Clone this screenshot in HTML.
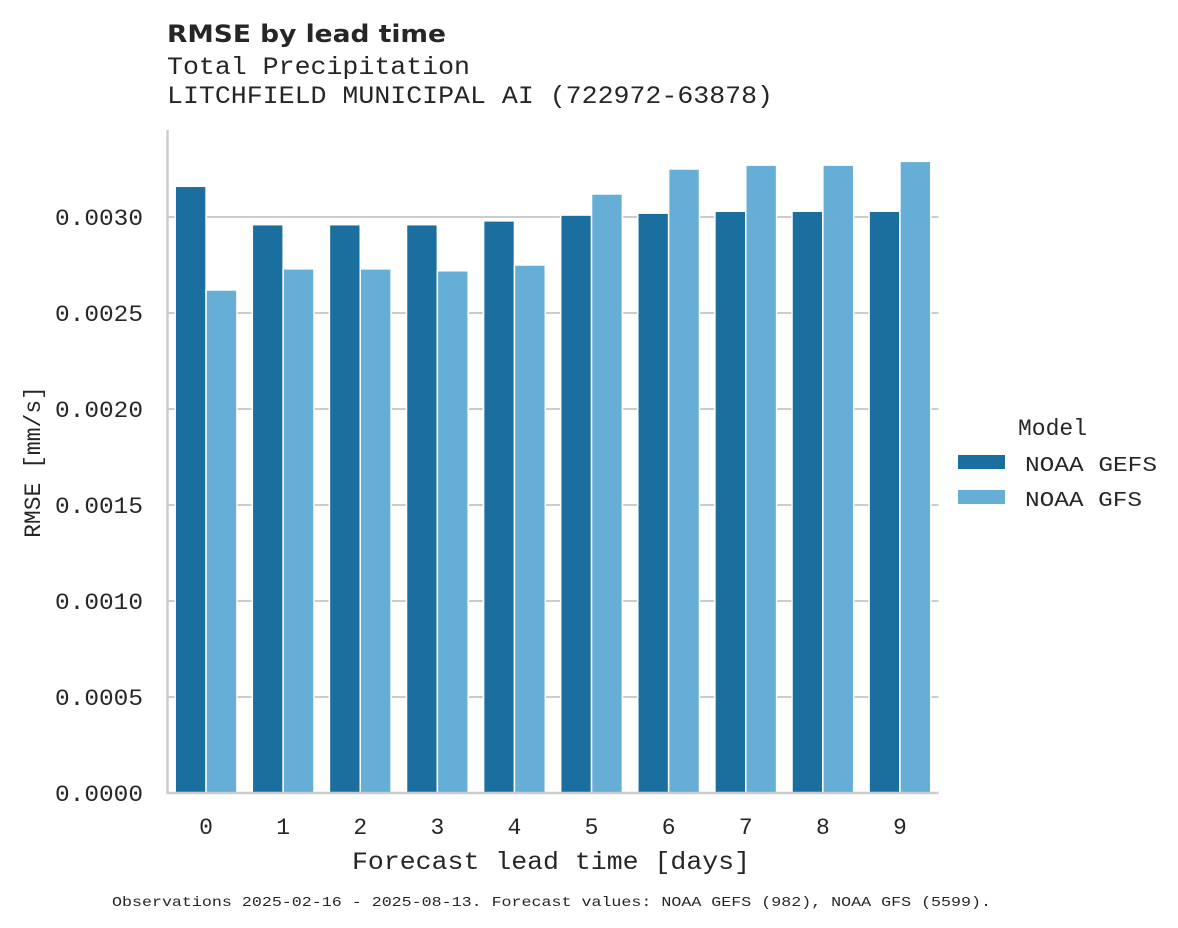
<!DOCTYPE html>
<html><head><meta charset="utf-8"><style>
html,body{margin:0;padding:0;background:#fff;}
svg{display:block;}
text{fill:#262626;font-family:"Liberation Mono",monospace;}
</style></head><body>
<svg id="chart" width="1178" height="928" viewBox="0 0 1178 928" xmlns="http://www.w3.org/2000/svg">
<text x="167" y="42" font-family="DejaVu Sans, Liberation Sans, sans-serif" style="font-family:'DejaVu Sans','Liberation Sans',sans-serif" font-weight="bold" font-size="24" textLength="279" lengthAdjust="spacingAndGlyphs">RMSE by lead time</text>
<text x="167" y="74" font-size="25" textLength="303" lengthAdjust="spacingAndGlyphs">Total Precipitation</text>
<text x="167" y="103" font-size="25" textLength="606" lengthAdjust="spacingAndGlyphs">LITCHFIELD MUNICIPAL AI (722972-63878)</text>
<g id="grid"></g>
<g id="bars"></g>
<g id="axes"></g>
<text x="0" y="0" transform="translate(40,462) rotate(-90)" text-anchor="middle" font-size="23">RMSE [mm/s]</text>
<text x="551" y="869" text-anchor="middle" font-size="25" textLength="398" lengthAdjust="spacingAndGlyphs">Forecast lead time [days]</text>
<g>
<text x="1018" y="435" font-size="23">Model</text>
<rect x="958" y="455" width="47" height="14" fill="#1a6f9f"></rect>
<text x="1025" y="471" font-size="21" textLength="132" lengthAdjust="spacingAndGlyphs">NOAA GEFS</text>
<rect x="958" y="490" width="47" height="14" fill="#67aed6"></rect>
<text x="1025" y="506" font-size="21" textLength="117" lengthAdjust="spacingAndGlyphs">NOAA GFS</text>
</g>
<text x="112" y="906" font-size="14" textLength="879" lengthAdjust="spacingAndGlyphs">Observations 2025-02-16 - 2025-08-13. Forecast values: NOAA GEFS (982), NOAA GFS (5599).</text>
</svg>
<script>
const categories = ["0","1","2","3","4","5","6","7","8","9"];
const gefsValues = [0.00316,0.00296,0.00296,0.00296,0.00298,0.00301,0.00302,0.00303,0.00303,0.00303];
const gfsValues = [0.00262,0.00273,0.00273,0.00272,0.00275,0.00312,0.00325,0.00327,0.00327,0.00329];
const yTicks = [0,0.0005,0.001,0.0015,0.002,0.0025,0.003];
const yTickLabels = ["0.0000","0.0005","0.0010","0.0015","0.0020","0.0025","0.0030"];

const NS = "http://www.w3.org/2000/svg";
const X0 = 167.5, X1 = 938.5, Y0 = 793, YTOP = 130;
const band = (X1 - X0) / categories.length;
function yScale(v){ return Y0 - v * 192000; }
function xBand(i){ return X0 + i * band; }
function mk(tag, attrs){ const e = document.createElementNS(NS, tag); for (const k in attrs) e.setAttribute(k, attrs[k]); return e; }

const grid = document.getElementById('grid');
const bars = document.getElementById('bars');
const axes = document.getElementById('axes');

yTicks.forEach((t, i) => {
  const y = yScale(t);
  if (t > 0) {
    const g = mk('line', {x1: X0, x2: X1, y1: y, y2: y, stroke: '#cccccc', 'stroke-width': 2});
    
    
    grid.appendChild(g);
  }
  const lbl = mk('text', {x: 143, y: y + 8, 'text-anchor': 'end', 'font-size': 23, textLength: 88, lengthAdjust: 'spacingAndGlyphs'});
  lbl.textContent = yTickLabels[i];
  
  
  axes.appendChild(lbl);
});

categories.forEach((c, i) => {
  const gw = band * 0.8, bw = gw / 2;
  const start = xBand(i) + band * 0.1;
  const y1 = yScale(gefsValues[i]);
  const b1 = mk('rect', {x: start, y: y1, width: bw, height: Y0 - y1, fill: '#1a6f9f', stroke: '#fff', 'stroke-width': 1.5});
  
  
  bars.appendChild(b1);
  const y2 = yScale(gfsValues[i]);
  const b2 = mk('rect', {x: start + bw, y: y2, width: bw, height: Y0 - y2, fill: '#67aed6', stroke: '#fff', 'stroke-width': 1.5});
  
  
  bars.appendChild(b2);
  const lbl = mk('text', {x: xBand(i) + band / 2, y: 834, 'text-anchor': 'middle', 'font-size': 23});
  lbl.textContent = c;
  
  
  axes.appendChild(lbl);
});

const yAxis = mk('line', {x1: X0, x2: X0, y1: YTOP, y2: Y0 + 1, stroke: '#cccccc', 'stroke-width': 2.5});


axes.appendChild(yAxis);
const xAxis = mk('line', {x1: X0, x2: X1, y1: Y0, y2: Y0, stroke: '#cccccc', 'stroke-width': 2.5});


axes.appendChild(xAxis);
</script>
</body></html>
